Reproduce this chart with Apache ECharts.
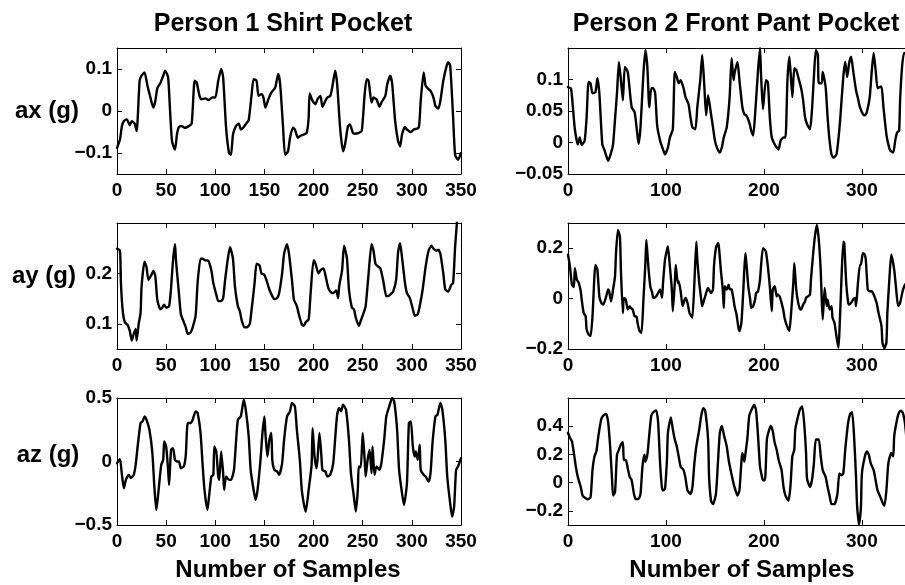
<!DOCTYPE html>
<html><head><meta charset="utf-8">
<script src="https://cdn.jsdelivr.net/npm/echarts@6/dist/echarts.min.js"></script>
<style>html,body{margin:0;padding:0;background:#fff}#c{width:905px;height:585px}</style>
</head><body><div id="c"></div>
<script>
// ---- titles / labels ----
const colTitles = ['Person 1 Shirt Pocket', 'Person 2 Front Pant Pocket'];
const rowLabels = ['ax (g)', 'ay (g)', 'az (g)'];
const xAxisTitle = 'Number of Samples';

// ---- tick labels ----
const xTicksLeft = [0, 50, 100, 150, 200, 250, 300, 350];
const xTicksRight = [0, 100, 200, 300];
const yTicksP1ax = [-0.1, 0, 0.1];
const yTicksP1ay = [0.1, 0.2];
const yTicksP1az = [-0.5, 0, 0.5];
const yTicksP2ax = [-0.05, 0, 0.05, 0.1];
const yTicksP2ay = [-0.2, 0, 0.2];
const yTicksP2az = [-0.2, 0, 0.2, 0.4];
const yRangeP1ax = [-0.15, 0.15];
const yRangeP1ay = [0.05, 0.3];
const yRangeP1az = [-0.5, 0.5];
const yRangeP2ax = [-0.05, 0.15];
const yRangeP2ay = [-0.2, 0.3];
const yRangeP2az = [-0.3, 0.6];
const xRangeLeft = [0, 350];
const xRangeRight = [0, 344];   // visible part of the right column (cut at the page edge)

// ---- series: [sample, value] ----
const p1ax = [[0,-0.088],[3,-0.068],[5,-0.036],[7,-0.024],[10,-0.02],[13,-0.034],[15,-0.024],[18,-0.03],[20,-0.048],[23,0.072],[25,0.084],[28,0.092],[31,0.06],[34,0.032],[37,0.008],[39,0.024],[41,0.054],[44,0.066],[47,0.084],[49,0.096],[52,0.08],[54,0.0],[56,-0.072],[59,-0.092],[61,-0.056],[63,-0.038],[66,-0.036],[69,-0.04],[73,-0.036],[76,-0.03],[79,0.072],[81,0.068],[84,0.036],[86,0.028],[90,0.03],[93,0.026],[97,0.032],[100,0.032],[103,0.072],[106,0.1],[108,0.08],[111,-0.04],[114,-0.1],[116,-0.104],[118,-0.056],[121,-0.036],[124,-0.03],[126,-0.044],[129,-0.038],[132,-0.028],[134,-0.022],[137,0.04],[139,0.076],[142,0.072],[144,0.036],[147,0.04],[149,0.032],[151,0.008],[154,0.028],[157,0.044],[161,0.056],[164,0.088],[166,0.064],[169,-0.04],[171,-0.104],[174,-0.096],[176,-0.064],[179,-0.04],[181,-0.044],[184,-0.064],[186,-0.06],[190,-0.056],[193,-0.052],[195,-0.016],[196,0.042],[199,0.024],[202,0.016],[204,0.028],[207,0.036],[209,0.01],[212,0.024],[214,0.032],[217,0.036],[219,0.056],[222,0.096],[224,0.064],[227,-0.04],[230,-0.096],[232,-0.08],[235,-0.036],[237,-0.032],[240,-0.052],[242,-0.054],[246,-0.052],[249,-0.048],[252,0.04],[254,0.076],[256,0.072],[259,0.02],[261,0.032],[264,0.028],[267,0.01],[269,0.02],[273,0.036],[275,0.064],[278,0.084],[280,0.064],[283,-0.024],[286,-0.072],[288,-0.084],[290,-0.056],[293,-0.038],[295,-0.044],[299,-0.05],[302,-0.044],[307,-0.04],[309,0.024],[312,0.092],[314,0.06],[317,0.052],[319,0.048],[322,0.032],[324,0.012],[327,0.006],[329,0.024],[332,0.072],[335,0.104],[337,0.116],[339,0.108],[342,-0.016],[344,-0.104],[347,-0.116],[350,-0.1]];

const p1ay = [[0,0.249],[3,0.245],[4,0.18],[6,0.122],[8,0.103],[11,0.097],[13,0.086],[15,0.067],[17,0.08],[19,0.09],[20,0.067],[22,0.099],[24,0.122],[25,0.174],[28,0.223],[30,0.213],[32,0.187],[35,0.197],[37,0.205],[39,0.194],[41,0.148],[44,0.129],[46,0.132],[48,0.138],[50,0.132],[53,0.135],[55,0.171],[57,0.226],[59,0.258],[60,0.226],[63,0.161],[65,0.119],[68,0.103],[70,0.093],[72,0.08],[75,0.083],[77,0.093],[80,0.116],[82,0.181],[85,0.229],[87,0.229],[90,0.226],[93,0.225],[96,0.206],[98,0.181],[101,0.158],[103,0.145],[106,0.145],[108,0.151],[110,0.187],[113,0.232],[115,0.252],[118,0.229],[120,0.174],[123,0.135],[125,0.125],[127,0.106],[130,0.093],[132,0.093],[135,0.099],[137,0.129],[140,0.181],[142,0.219],[145,0.216],[147,0.2],[150,0.197],[152,0.187],[155,0.168],[158,0.155],[160,0.149],[163,0.151],[165,0.161],[168,0.2],[170,0.239],[173,0.258],[175,0.239],[178,0.187],[180,0.148],[183,0.135],[185,0.119],[188,0.099],[190,0.096],[192,0.103],[195,0.109],[197,0.161],[200,0.226],[202,0.219],[205,0.2],[207,0.206],[210,0.21],[212,0.197],[215,0.171],[218,0.162],[220,0.161],[223,0.166],[225,0.151],[226,0.174],[229,0.206],[231,0.255],[234,0.229],[236,0.168],[239,0.132],[241,0.129],[243,0.112],[246,0.096],[248,0.106],[251,0.122],[253,0.135],[256,0.2],[259,0.258],[261,0.245],[263,0.219],[266,0.213],[268,0.21],[271,0.184],[274,0.155],[276,0.155],[279,0.16],[281,0.164],[284,0.187],[286,0.242],[288,0.26],[290,0.232],[293,0.181],[295,0.161],[298,0.151],[301,0.129],[303,0.116],[306,0.119],[308,0.135],[311,0.168],[314,0.213],[317,0.245],[320,0.255],[322,0.249],[325,0.245],[327,0.247],[329,0.239],[332,0.2],[334,0.168],[337,0.164],[340,0.177],[342,0.181],[344,0.252],[346,0.304],[348,0.34]];

const p1az = [[0,-0.013],[3,0.018],[5,-0.105],[7,-0.21],[9,-0.145],[12,-0.105],[14,-0.13],[17,-0.105],[19,-0.026],[21,0.118],[24,0.303],[26,0.316],[28,0.355],[30,0.329],[33,0.25],[36,0.066],[38,-0.197],[40,-0.382],[42,-0.25],[45,-0.026],[47,0.013],[48,0.158],[50,0.118],[52,-0.066],[53,-0.184],[55,0.092],[57,0.105],[59,0.013],[61,0],[63,0],[65,-0.053],[68,-0.039],[70,0.053],[72,0.303],[75,0.303],[77,0.329],[80,0.395],[82,0.382],[85,0.224],[87,-0.013],[89,-0.224],[92,-0.382],[94,-0.25],[96,-0.118],[98,-0.105],[99,0.118],[101,0.079],[103,-0.118],[104,-0.145],[106,0.079],[108,-0.092],[109,-0.224],[111,-0.118],[114,-0.145],[116,-0.145],[119,-0.066],[121,0.145],[123,0.329],[126,0.355],[129,0.487],[131,0.408],[134,0.197],[136,-0.066],[139,-0.224],[141,-0.303],[143,-0.224],[146,0.013],[148,0.224],[150,0.355],[151,0.224],[153,0.039],[155,0.171],[157,0.224],[158,0.013],[160,-0.066],[163,-0.079],[165,-0.105],[168,-0.013],[170,0.171],[173,0.355],[176,0.395],[178,0.461],[181,0.434],[183,0.25],[186,0.013],[188,-0.224],[190,-0.329],[192,-0.395],[195,-0.224],[198,-0.026],[199,0.263],[201,0.039],[203,-0.053],[204,0.013],[206,0.224],[208,0.039],[209,-0.066],[212,-0.079],[214,-0.118],[217,-0.105],[220,-0.013],[222,0.184],[224,0.368],[226,0.421],[228,0.395],[230,0.447],[233,0.408],[236,0.171],[238,-0.092],[241,-0.276],[243,-0.395],[245,-0.224],[246,-0.039],[248,-0.045],[250,0.224],[252,0.013],[253,-0.118],[255,0.013],[257,0.092],[259,-0.092],[260,0.118],[262,-0.105],[264,-0.039],[267,-0.066],[269,-0.013],[272,0.184],[274,0.355],[277,0.434],[280,0.5],[282,0.474],[285,0.25],[287,-0.066],[290,-0.25],[292,-0.342],[295,-0.171],[297,0.303],[299,0.316],[301,0.118],[303,0.039],[304,0.079],[306,0.013],[308,0.132],[309,-0.066],[312,-0.105],[314,-0.118],[317,-0.158],[319,-0.092],[321,0.145],[324,0.355],[326,0.368],[329,0.461],[331,0.408],[334,0.171],[336,-0.118],[339,-0.329],[341,-0.434],[343,-0.355],[345,-0.066],[347,-0.039],[350,0.026]];

const p2ax = [[0,0.088],[3,0.086],[5,0.056],[7,0.021],[10,-0.003],[12,0.008],[14,-0.004],[17,0.003],[19,0.04],[21,0.096],[23,0.094],[25,0.078],[28,0.08],[30,0.102],[32,0.078],[35,-0.003],[37,-0.011],[39,-0.021],[41,-0.029],[44,-0.016],[46,-0.003],[48,0.037],[50,0.078],[52,0.128],[54,0.099],[56,0.067],[58,0.12],[61,0.112],[63,0.083],[65,0.056],[68,0.048],[70,0.024],[72,-0.002],[74,0.024],[77,0.11],[79,0.147],[81,0.12],[83,0.056],[85,0.086],[87,0.086],[89,0.078],[91,0.027],[94,0.003],[97,-0.011],[99,-0.019],[102,-0.008],[104,0.008],[107,0.021],[109,0.112],[111,0.104],[113,0.094],[115,0.099],[118,0.086],[120,0.072],[123,0.061],[125,0.04],[127,0.024],[130,0.021],[132,0.056],[135,0.099],[137,0.139],[139,0.094],[141,0.043],[143,0.075],[146,0.045],[148,0.024],[150,0.003],[152,-0.008],[155,-0.016],[157,-0.008],[159,0.008],[162,0.024],[165,0.072],[167,0.134],[169,0.099],[170,0.11],[173,0.128],[175,0.099],[178,0.056],[180,0.045],[182,0.043],[185,0.032],[187,0.019],[189,0.011],[191,0.045],[194,0.115],[196,0.15],[197,0.11],[199,0.053],[202,0.099],[204,0.096],[206,0.04],[208,0.008],[210,0],[213,-0.008],[215,-0.011],[217,0.003],[220,0.008],[222,0.008],[224,0.099],[226,0.136],[229,0.072],[231,0.118],[233,0.115],[235,0.104],[238,0.086],[240,0.067],[242,0.04],[244,0.029],[247,0.021],[249,0.051],[251,0.104],[253,0.147],[255,0.139],[256,0.094],[259,0.094],[260,0.112],[263,0.088],[265,0.04],[267,0.003],[269,-0.019],[271,-0.024],[274,-0.019],[276,0.005],[278,0.04],[281,0.104],[283,0.128],[285,0.104],[287,0.126],[289,0.136],[291,0.115],[294,0.083],[296,0.07],[298,0.056],[301,0.045],[303,0.043],[305,0.048],[308,0.072],[310,0.112],[312,0.142],[314,0.115],[316,0.086],[318,0.088],[320,0.089],[322,0.056],[325,0.013],[327,-0.003],[329,-0.013],[332,-0.016],[334,0.003],[336,0.016],[338,0.019],[339,0.067],[341,0.12],[343,0.142],[346,0.14],[349,0.13]];

const p2ay = [[0,0.174],[2,0.128],[4,0.055],[6,0.046],[7,0.121],[9,0.075],[11,0.062],[13,0.029],[14,-0.004],[16,-0.057],[18,-0.07],[19,-0.122],[21,-0.142],[23,-0.149],[25,-0.07],[28,0.134],[30,0.114],[32,0.009],[34,-0.017],[36,-0.024],[39,0.009],[41,0.036],[42,0.029],[44,-0.011],[46,0.036],[48,0.088],[49,0.18],[51,0.272],[53,0.246],[54,0.114],[56,-0.057],[57,0.003],[59,-0.004],[61,-0.043],[63,-0.03],[64,-0.037],[66,-0.043],[68,-0.07],[70,-0.072],[71,-0.096],[73,-0.129],[75,-0.136],[77,-0.004],[79,0.141],[80,0.233],[82,0.128],[84,0.049],[86,0.022],[87,0.003],[90,0.009],[92,0.022],[94,0.036],[96,0.003],[97,0.062],[99,0.154],[101,0.193],[102,0.207],[104,0.128],[106,0.036],[107,-0.05],[109,0.062],[110,0.134],[112,0.062],[113,0.068],[115,0.029],[117,-0.03],[119,-0.004],[120,0.003],[122,-0.017],[124,-0.057],[126,-0.07],[127,-0.076],[129,0.062],[131,0.226],[132,0.154],[134,0.062],[136,-0.004],[137,-0.03],[139,-0.004],[141,0.022],[143,0.042],[144,0.036],[146,0.022],[148,0.036],[149,0.128],[151,0.2],[153,0.22],[154,0.207],[156,0.114],[158,0.036],[159,-0.037],[160,0.049],[162,0.036],[164,0.055],[165,0.038],[167,0.036],[169,-0.004],[170,-0.03],[172,-0.063],[174,-0.116],[175,-0.129],[177,-0.096],[179,0.036],[181,0.18],[182,0.147],[184,0.049],[186,-0.004],[187,-0.037],[189,-0.03],[191,-0.004],[192,0.022],[194,0.029],[196,0.075],[197,0.128],[199,0.2],[201,0.193],[202,0.187],[204,0.128],[206,0.049],[208,-0.05],[209,0.036],[211,0.049],[213,0.009],[214,0.016],[216,0.009],[218,-0.017],[220,-0.05],[221,-0.076],[223,-0.103],[225,-0.122],[226,-0.129],[228,-0.043],[230,0.062],[231,0.141],[233,0.036],[235,-0.017],[237,-0.043],[238,-0.043],[240,-0.024],[242,-0.011],[243,0.003],[245,0.009],[247,0.016],[248,0.075],[250,0.167],[252,0.246],[254,0.292],[256,0.233],[258,0.108],[259,-0.004],[260,-0.083],[262,0.042],[264,-0.03],[265,-0.004],[267,-0.043],[269,-0.03],[270,-0.076],[272,-0.096],[274,-0.149],[276,-0.195],[277,-0.136],[279,0.062],[281,0.226],[282,0.22],[284,0.062],[286,-0.017],[287,-0.024],[289,-0.017],[291,-0.004],[293,0.003],[294,-0.03],[296,0.062],[298,0.134],[299,0.134],[301,0.18],[303,0.174],[304,0.154],[306,0.036],[308,0.029],[310,0.029],[312,0.016],[315,-0.017],[317,-0.057],[320,-0.109],[321,-0.175],[323,-0.197],[325,-0.175],[326,-0.057],[328,0.075],[330,0.174],[333,0.114],[335,0.036],[337,-0.03],[339,-0.017],[342,0.036],[345,0.06],[348,0.05]];

const p2az = [[0,0.354],[2,0.318],[4,0.294],[6,0.21],[8,0.113],[10,0.041],[13,-0.031],[15,-0.092],[18,-0.111],[20,-0.118],[23,-0.104],[25,0.089],[27,0.186],[29,0.222],[31,0.33],[34,0.451],[36,0.475],[39,0.487],[41,0.427],[43,0.258],[45,0.017],[46,-0.092],[48,-0.067],[50,0.198],[52,0.234],[54,0.27],[56,0.287],[57,0.161],[59,0.161],[61,0.101],[63,0.041],[65,0.017],[67,-0.067],[69,-0.116],[72,-0.116],[74,-0.08],[76,0.113],[78,0.198],[79,0.149],[81,0.198],[83,0.342],[85,0.475],[87,0.499],[90,0.511],[92,0.427],[94,0.137],[96,-0.043],[97,-0.055],[99,-0.043],[101,0.161],[102,0.354],[105,0.463],[107,0.378],[109,0.306],[111,0.258],[113,0.186],[115,0.113],[118,0.089],[120,0.029],[122,-0.055],[125,-0.08],[127,-0.031],[129,0.137],[131,0.258],[134,0.378],[136,0.475],[138,0.528],[140,0.511],[143,0.306],[144,0.041],[146,-0.128],[148,-0.152],[151,-0.08],[153,0.137],[155,0.354],[157,0.402],[159,0.342],[162,0.258],[164,0.161],[166,0.089],[169,-0.007],[171,-0.055],[173,-0.092],[175,-0.055],[178,0.21],[180,0.149],[181,0.198],[183,0.306],[185,0.475],[187,0.511],[190,0.552],[192,0.511],[194,0.33],[196,0.113],[198,0.041],[199,0.017],[201,0.017],[203,0.306],[205,0.366],[207,0.402],[209,0.366],[211,0.282],[213,0.234],[215,0.161],[218,0.089],[220,-0.031],[222,-0.092],[225,-0.128],[227,-0.031],[229,0.186],[231,0.234],[232,0.378],[235,0.475],[237,0.523],[239,0.54],[241,0.427],[243,0.21],[244,0.029],[247,-0.031],[249,0.017],[251,0.137],[253,0.306],[256,0.306],[258,0.186],[260,0.089],[263,0.041],[265,-0.031],[267,-0.092],[269,-0.152],[272,-0.152],[275,-0.08],[277,0.065],[279,0.053],[281,0.065],[283,0.234],[286,0.427],[288,0.487],[290,0.499],[292,0.33],[294,0.041],[295,-0.152],[297,-0.296],[299,-0.176],[300,0.065],[303,0.186],[305,0.222],[307,0.198],[309,0.137],[312,0.089],[314,0.017],[316,-0.055],[319,-0.104],[321,-0.14],[323,-0.164],[325,-0.055],[327,0.137],[330,0.21],[332,0.186],[333,0.33],[336,0.451],[338,0.499],[340,0.51],[342,0.49],[344,0.42],[347,0.2],[350,0.0]];

// ---- layout (pixels) ----
const FONT = 'Liberation Sans, Arial, Helvetica, sans-serif';
const colLeft = [117, 568];
const colWidth = [344, 337];
const rowTop = [48, 223, 398];
const rowHeight = [126, 126, 127];

const panels = [
  {col:0,row:0,data:p1ax,xt:xTicksLeft,xr:xRangeLeft,yt:yTicksP1ax,yr:yRangeP1ax,box:true},
  {col:0,row:1,data:p1ay,xt:xTicksLeft,xr:xRangeLeft,yt:yTicksP1ay,yr:yRangeP1ay,box:true},
  {col:0,row:2,data:p1az,xt:xTicksLeft,xr:xRangeLeft,yt:yTicksP1az,yr:yRangeP1az,box:true},
  {col:1,row:0,data:p2ax,xt:xTicksRight,xr:xRangeRight,yt:yTicksP2ax,yr:yRangeP2ax,box:false},
  {col:1,row:1,data:p2ay,xt:xTicksRight,xr:xRangeRight,yt:yTicksP2ay,yr:yRangeP2ay,box:false},
  {col:1,row:2,data:p2az,xt:xTicksRight,xr:xRangeRight,yt:yTicksP2az,yr:yRangeP2az,box:false}
];

const fmt = v => (v < 0 ? '\u2212' : '') + String(Math.abs(v));
const lineStyle = {color:'#000', width:1};
const tickStyle = {inside:true, length:5, lineStyle:{color:'#000', width:1}};
const labelStyle = {color:'#000', fontSize:19, fontWeight:'bold', fontFamily:FONT};

const grid = [], xAxis = [], yAxis = [], series = [];
panels.forEach((p, i) => {
  grid.push({left:colLeft[p.col], top:rowTop[p.row], width:colWidth[p.col], height:rowHeight[p.row], containLabel:false});
  xAxis.push({type:'value', gridIndex:i, position:'bottom', min:p.xr[0], max:p.xr[1],
    axisLine:{show:true, onZero:false, lineStyle},
    axisTick:Object.assign({customValues:p.xt}, tickStyle),
    axisLabel:Object.assign({customValues:p.xt, margin:7}, labelStyle),
    splitLine:{show:false}});
  xAxis.push({type:'value', gridIndex:i, position:'top', min:p.xr[0], max:p.xr[1],
    axisLine:{show:true, onZero:false, lineStyle},
    axisTick:Object.assign({customValues:p.xt}, tickStyle),
    axisLabel:{show:false}, splitLine:{show:false}});
  yAxis.push({type:'value', gridIndex:i, position:'left', min:p.yr[0], max:p.yr[1],
    axisLine:{show:true, onZero:false, lineStyle},
    axisTick:Object.assign({customValues:p.yt}, tickStyle),
    axisLabel:Object.assign({customValues:p.yt, margin:5, formatter:fmt}, labelStyle),
    splitLine:{show:false}});
  yAxis.push({type:'value', gridIndex:i, position:'right', min:p.yr[0], max:p.yr[1],
    show:p.box,
    axisLine:{show:true, onZero:false, lineStyle},
    axisTick:Object.assign({customValues:p.yt}, tickStyle),
    axisLabel:{show:false}, splitLine:{show:false}});
  series.push({type:'line', xAxisIndex:2*i, yAxisIndex:2*i, data:p.data, showSymbol:false,
    symbol:'none', clip:true, smooth:0.2, lineStyle:{color:'#000', width:2.4, join:'round', cap:'round'}, animation:false});
});

const graphic = [
  {type:'text', x:283, y:24, style:{text:colTitles[0], font:'bold 25px '+FONT, fill:'#000', align:'center', verticalAlign:'middle'}},
  {type:'text', x:736, y:24, style:{text:colTitles[1], font:'bold 25px '+FONT, fill:'#000', align:'center', verticalAlign:'middle'}},
  {type:'text', x:47, y:111, style:{text:rowLabels[0], font:'bold 24px '+FONT, fill:'#000', align:'center', verticalAlign:'middle'}},
  {type:'text', x:44, y:276, style:{text:rowLabels[1], font:'bold 24px '+FONT, fill:'#000', align:'center', verticalAlign:'middle'}},
  {type:'text', x:48, y:455, style:{text:rowLabels[2], font:'bold 24px '+FONT, fill:'#000', align:'center', verticalAlign:'middle'}},
  {type:'text', x:288, y:570, style:{text:xAxisTitle, font:'bold 24px '+FONT, fill:'#000', align:'center', verticalAlign:'middle'}},
  {type:'text', x:742, y:570, style:{text:xAxisTitle, font:'bold 24px '+FONT, fill:'#000', align:'center', verticalAlign:'middle'}}
];

const chart = echarts.init(document.getElementById('c'), null, {renderer:'canvas'});
chart.setOption({animation:false, backgroundColor:'#fff', grid, xAxis, yAxis, series, graphic});
</script></body></html>
